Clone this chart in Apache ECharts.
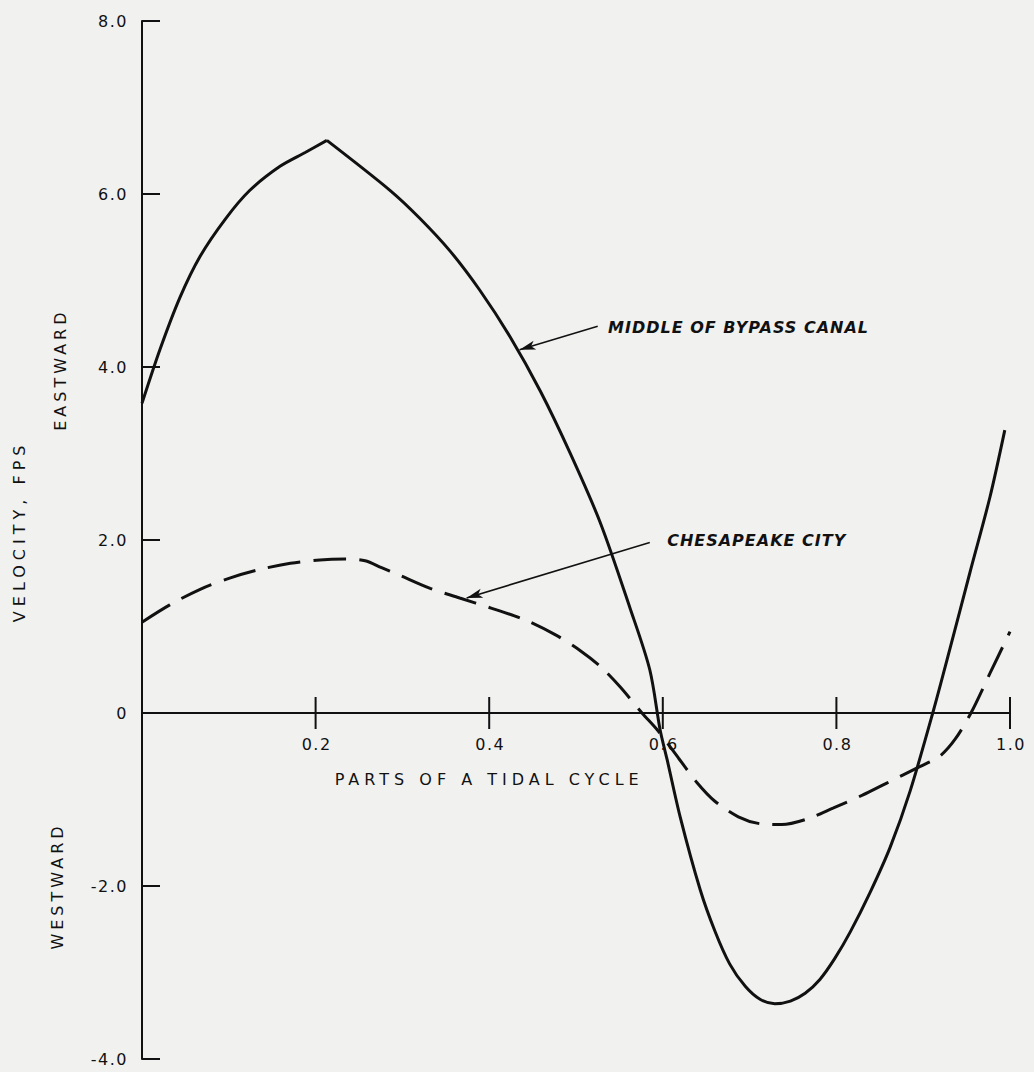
<!DOCTYPE html>
<html><head><meta charset="utf-8">
<script src="https://cdn.jsdelivr.net/npm/echarts@6/dist/echarts.min.js"></script>
<style>html,body{margin:0;padding:0;background:#f1f1f0;} #chart{width:1034px;height:1072px;}</style>
</head><body><div id="chart"></div>
<script>
// ---- data ----
const bypassX = [0, 0.021, 0.044, 0.067, 0.096, 0.124, 0.159, 0.188, 0.213, 0.286, 0.320, 0.355, 0.389, 0.424, 0.459, 0.493, 0.528, 0.562, 0.585, 0.597, 0.605, 0.620, 0.643, 0.660, 0.677, 0.695, 0.712, 0.729, 0.747, 0.764, 0.781, 0.798, 0.816, 0.839, 0.862, 0.885, 0.911, 0.931, 0.954, 0.977, 0.994];
const bypassV = [3.58, 4.21, 4.81, 5.28, 5.71, 6.04, 6.32, 6.48, 6.62, 6.04, 5.72, 5.34, 4.89, 4.35, 3.72, 3.01, 2.20, 1.22, 0.50, -0.20, -0.54, -1.20, -2.04, -2.52, -2.90, -3.16, -3.31, -3.36, -3.33, -3.24, -3.08, -2.84, -2.53, -2.07, -1.55, -0.90, 0.00, 0.75, 1.63, 2.50, 3.27];
const bypassPeakIndex = 8;
const chesX = [0, 0.032, 0.067, 0.101, 0.136, 0.171, 0.205, 0.234, 0.257, 0.276, 0.295, 0.332, 0.366, 0.403, 0.443, 0.477, 0.505, 0.529, 0.551, 0.576, 0.594, 0.618, 0.639, 0.660, 0.687, 0.712, 0.737, 0.765, 0.796, 0.830, 0.858, 0.896, 0.919, 0.937, 0.955, 0.977, 1.0];
const chesV = [1.05, 1.25, 1.43, 1.56, 1.66, 1.73, 1.77, 1.78, 1.76, 1.68, 1.60, 1.44, 1.33, 1.21, 1.07, 0.90, 0.72, 0.53, 0.30, 0.00, -0.20, -0.52, -0.80, -1.02, -1.20, -1.28, -1.29, -1.23, -1.10, -0.95, -0.81, -0.62, -0.50, -0.30, 0.00, 0.46, 0.94];
const xTicks = [0.2, 0.4, 0.6, 0.8, 1.0];
const yTicks = [-4, -2, 0, 2, 4, 6, 8];
const seriesNames = ['MIDDLE OF BYPASS CANAL', 'CHESAPEAKE CITY'];
const xTitle = 'PARTS OF A TIDAL CYCLE';
const yTitle = 'VELOCITY, FPS';
const dirLabels = ['EASTWARD', 'WESTWARD'];

const INK = '#111111';
const FONTNAME = '"DejaVu Sans", "Liberation Sans", sans-serif';
const FONT16 = '16px ' + FONTNAME;

const chart = echarts.init(document.getElementById('chart'), null, {renderer: 'svg'});
const zip = (xs, ys) => xs.map((x, i) => [x, ys[i]]);
const bypassPts = zip(bypassX, bypassV);

const lineBase = {type: 'line', symbol: 'none', z: 4, silent: true};
const calloutLabel = {show: true, position: 'right', distance: 0, formatter: '{b}', color: INK,
                      fontFamily: FONTNAME, fontSize: 16, fontStyle: 'italic', fontWeight: 'bold'};

chart.setOption({
  animation: false,
  backgroundColor: '#f1f1f0',
  grid: {left: 142, right: 24, top: 21, bottom: 13, containLabel: false, outerBoundsMode: 'none'},
  xAxis: {
    type: 'value', min: 0, max: xTicks[xTicks.length - 1], interval: 0.2,
    axisLine: {onZero: true, lineStyle: {color: INK, width: 2}},
    axisTick: {show: false}, splitLine: {show: false}, axisLabel: {show: false}
  },
  yAxis: {
    type: 'value', min: yTicks[0], max: yTicks[yTicks.length - 1], interval: 2,
    axisLine: {onZero: false, lineStyle: {color: INK, width: 2}},
    axisTick: {show: true, inside: true, length: 18, lineStyle: {color: INK, width: 2}},
    splitLine: {show: false},
    axisLabel: {
      margin: 14, color: INK, fontFamily: FONTNAME, fontSize: 16,
      formatter: v => (v === 0 ? '0' : v.toFixed(1))
    }
  },
  series: [
    Object.assign({}, lineBase, {
      name: seriesNames[0], data: bypassPts.slice(0, bypassPeakIndex + 1), smooth: 0.3,
      lineStyle: {color: INK, width: 3}
    }),
    Object.assign({}, lineBase, {
      name: seriesNames[0], data: bypassPts.slice(bypassPeakIndex), smooth: 0.3,
      lineStyle: {color: INK, width: 3},
      markLine: {
        silent: true, animation: false,
        lineStyle: {color: INK, width: 1.6, type: 'solid', curveness: -0.04},
        label: {show: false},
        data: [[
          {coord: [0.525, 4.47], symbol: 'none'},
          {coord: [0.435, 4.20], symbol: 'arrow', symbolSize: [7, 16]}
        ]]
      },
      markPoint: {
        silent: true, symbol: 'circle', symbolSize: 0,
        data: [{name: seriesNames[0], coord: [0.537, 4.46], label: calloutLabel}]
      }
    }),
    Object.assign({}, lineBase, {
      name: seriesNames[1], data: zip(chesX, chesV), smooth: 0.3,
      lineStyle: {color: INK, width: 3, type: [33, 13]},
      markLine: {
        silent: true, animation: false,
        lineStyle: {color: INK, width: 1.6, type: 'solid', curveness: -0.12},
        label: {show: false},
        data: [[
          {coord: [0.585, 1.97], symbol: 'none'},
          {coord: [0.374, 1.33], symbol: 'arrow', symbolSize: [7, 16]}
        ]]
      },
      markPoint: {
        silent: true, symbol: 'circle', symbolSize: 0,
        data: [{name: seriesNames[1], coord: [0.605, 2.0], label: calloutLabel}]
      }
    }),
    {
      // x-axis ticks crossing the zero line, with their labels
      type: 'custom', silent: true, z: 3,
      data: xTicks.map(v => [v, 0]),
      encode: {x: 0, y: 1},
      renderItem: (params, api) => {
        const v = api.value(0);
        const c = api.coord([v, api.value(1)]);
        return {type: 'group', children: [
          {type: 'line', shape: {x1: c[0], y1: c[1] - 16, x2: c[0], y2: c[1] + 16},
           style: {stroke: INK, lineWidth: 2}},
          {type: 'text', x: c[0] + 1, y: c[1] + 31,
           style: {text: v.toFixed(1), font: FONT16, fill: INK, textAlign: 'center', textVerticalAlign: 'middle'}}
        ]};
      }
    }
  ]
});

// axis titles placed relative to data positions
const px = p => chart.convertToPixel({xAxisIndex: 0, yAxisIndex: 0}, p);
const pTitleX = px([0.4, 0]);
const pTitleY = px([0, 2.1]);
const pEast = px([0, 3.97]);
const pWest = px([0, -2.0]);
const txt = (text, x, y, rot) => ({
  type: 'text', x: x, y: y, rotation: rot, silent: true,
  style: {text: text, font: FONT16, fill: INK, textAlign: 'center', textVerticalAlign: 'middle'}
});
chart.setOption({graphic: [
  txt(xTitle, pTitleX[0], pTitleX[1] + 66, 0),
  txt(yTitle, pTitleY[0] - 123, pTitleY[1], Math.PI / 2),
  txt(dirLabels[0], pEast[0] - 82, pEast[1], Math.PI / 2),
  txt(dirLabels[1], pWest[0] - 85, pWest[1], Math.PI / 2)
]});

// letter spacing to match the wide drafting lettering
const spacing = {};
spacing[xTitle] = '5px';
spacing[yTitle] = '5px';
spacing[dirLabels[0]] = '4px';
spacing[dirLabels[1]] = '4px';
spacing[seriesNames[0]] = '1px';
spacing[seriesNames[1]] = '1px';
function applySpacing() {
  document.querySelectorAll('#chart text').forEach(t => {
    const s = spacing[t.textContent];
    t.style.letterSpacing = s || '1.5px';
  });
}
chart.on('finished', applySpacing);
applySpacing();
setTimeout(applySpacing, 0);
setTimeout(applySpacing, 200);
</script>
</body></html>
